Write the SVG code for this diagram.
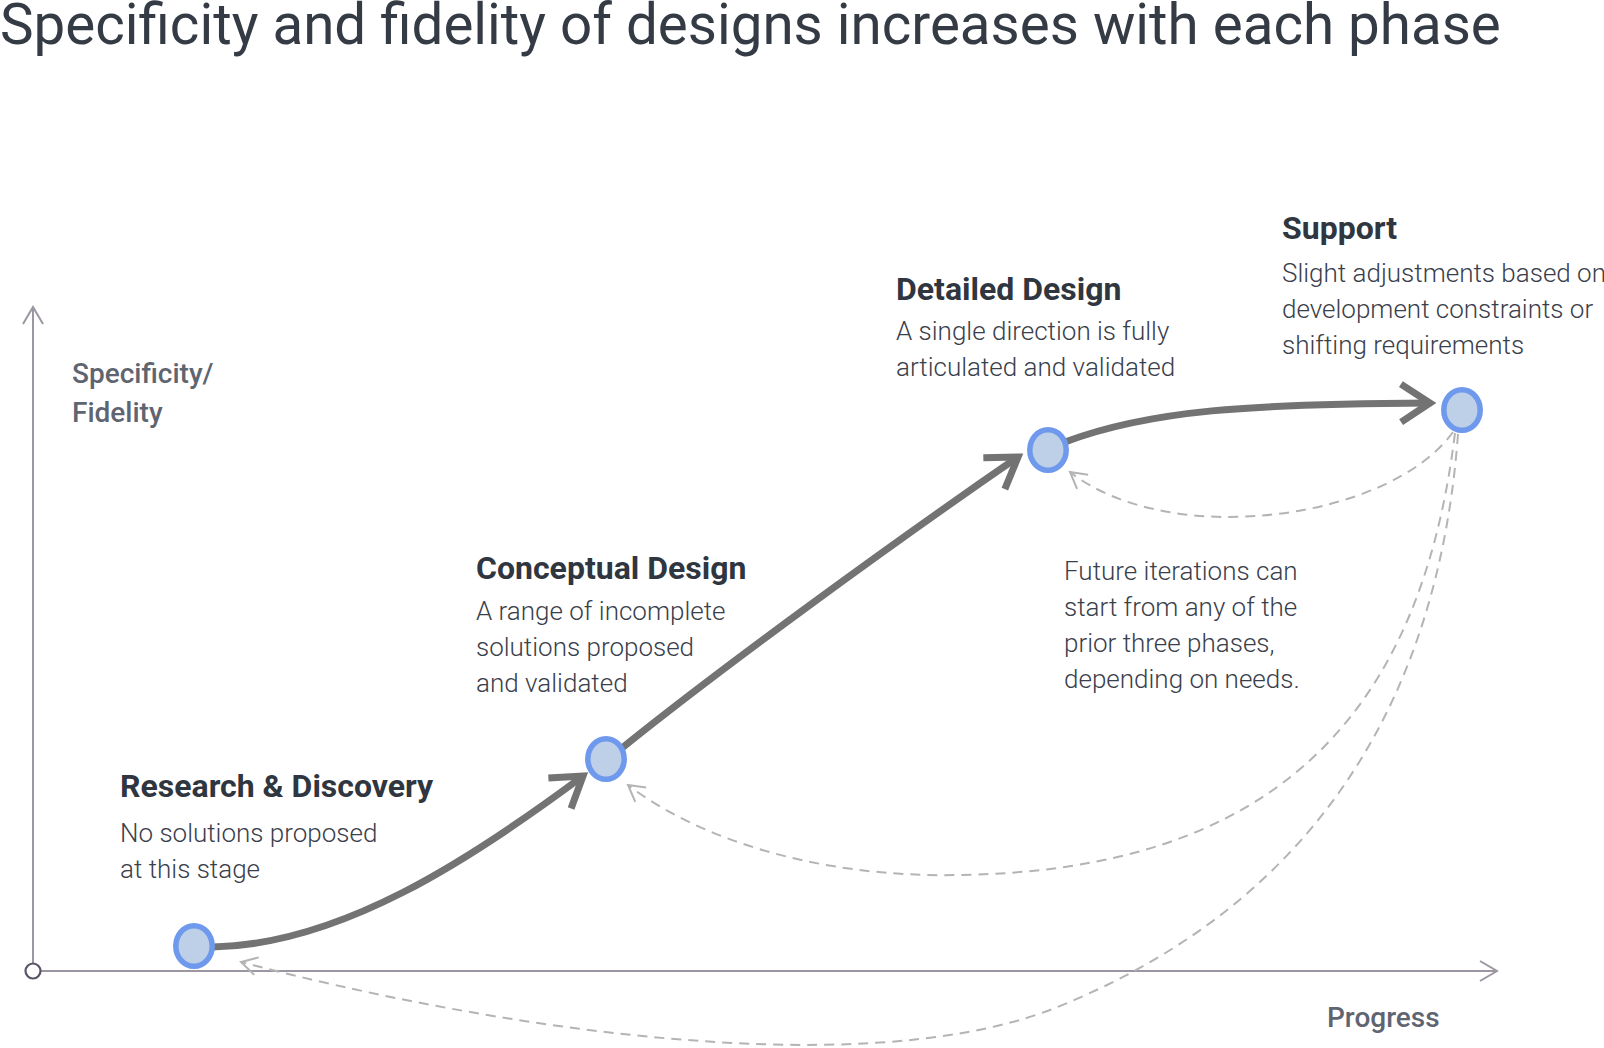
<svg xmlns="http://www.w3.org/2000/svg" width="1604" height="1048" viewBox="0 0 1604 1048">
<style>
text{font-family:Roboto,"Liberation Sans",sans-serif}
.title{font-size:56.5px;font-weight:400;fill:#353b45}
.h{font-size:32px;font-weight:700;fill:#2f3640}
.b{font-size:26px;font-weight:300;fill:#3a404b}
.ax{font-size:28px;font-weight:500;fill:#5f6570}
.node{fill:#bed0e8;stroke:#6e99ec;stroke-width:5.5}
.main{fill:none;stroke:#737373;stroke-width:7}
.dash{fill:none;stroke:#b4b4b4;stroke-width:2;stroke-dasharray:10 7}
.axis{fill:none;stroke:#9b96a1;stroke-width:2}
</style>
<defs>
<marker id="mh" markerUnits="userSpaceOnUse" viewBox="-40 -30 50 60" refX="0" refY="0" markerWidth="50" markerHeight="60" orient="auto" overflow="visible">
<path d="M -29 -19 L 0 0 L -29 19" fill="none" stroke="#737373" stroke-width="7"/>
</marker>
<marker id="dh" markerUnits="userSpaceOnUse" viewBox="-20 -12 24 24" refX="0" refY="0" markerWidth="24" markerHeight="24" orient="auto" overflow="visible">
<path d="M -16 -9 L 0 0 L -16 9" fill="none" stroke="#b4b4b4" stroke-width="2"/>
</marker>
<marker id="ah" markerUnits="userSpaceOnUse" viewBox="-20 -12 24 24" refX="0" refY="0" markerWidth="24" markerHeight="24" orient="auto" overflow="visible">
<path d="M -17 -10 L 0 0 L -17 10" fill="none" stroke="#9b96a1" stroke-width="2"/>
</marker>
</defs>
<rect width="1604" height="1048" fill="#ffffff"/>
<text class="title" x="0" y="44">Specificity and fidelity of designs increases with each phase</text>

<g id="axes">
<path class="axis" d="M 33 963 L 33 307" marker-end="url(#ah)"/>
<path class="axis" d="M 41 971 L 1497 971" marker-end="url(#ah)"/>
<circle cx="33" cy="971" r="7.5" fill="#ffffff" stroke="#5b5366" stroke-width="2.2"/>
<text class="ax" x="72" y="383">Specificity/</text>
<text class="ax" x="72" y="422">Fidelity</text>
<text class="ax" x="1327" y="1027">Progress</text>
</g>

<g id="connectors">
<path class="main" d="M 212 947 C 340 945, 470 860, 583 776" marker-end="url(#mh)"/>
<path class="main" d="M 622 748 C 720 669, 890 545, 1018 457" marker-end="url(#mh)"/>
<path class="main" d="M 1065 442 C 1150 410, 1250 404, 1430 403" marker-end="url(#mh)"/>
<path class="dash" d="M 1453 432 C 1390 520, 1170 550, 1070 472" marker-end="url(#dh)"/>
<path class="dash" d="M 1455 433 C 1420 720, 1270 870, 960 875 C 820 878, 700 840, 628 785" marker-end="url(#dh)"/>
<path class="dash" d="M 1458 434 C 1440 680, 1330 900, 1050 1010 C 850 1085, 480 1025, 241 962" marker-end="url(#dh)"/>
</g>

<g id="node-research">
<ellipse class="node" cx="194" cy="946" rx="18.2" ry="20.3"/>
<text class="h" x="120" y="797">Research &amp; Discovery</text>
<text class="b" x="120" y="842">No solutions proposed</text>
<text class="b" x="120" y="878">at this stage</text>
</g>
<g id="node-conceptual">
<ellipse class="node" cx="606" cy="759" rx="18.2" ry="20.3"/>
<text class="h" x="476" y="579">Conceptual Design</text>
<text class="b" x="476" y="620">A range of incomplete</text>
<text class="b" x="476" y="656">solutions proposed</text>
<text class="b" x="476" y="692">and validated</text>
</g>
<g id="node-detailed">
<ellipse class="node" cx="1048" cy="450" rx="18.2" ry="20.3"/>
<text class="h" x="896" y="300">Detailed Design</text>
<text class="b" x="896" y="340">A single direction is fully</text>
<text class="b" x="896" y="376">articulated and validated</text>
</g>
<g id="node-support">
<ellipse class="node" cx="1462" cy="410" rx="18.2" ry="20.3"/>
<text class="h" x="1282" y="239">Support</text>
<text class="b" x="1282" y="282">Slight adjustments based on</text>
<text class="b" x="1282" y="318">development constraints or</text>
<text class="b" x="1282" y="354">shifting requirements</text>
</g>
<g id="note">
<text class="b" x="1064" y="580">Future iterations can</text>
<text class="b" x="1064" y="616">start from any of the</text>
<text class="b" x="1064" y="652">prior three phases,</text>
<text class="b" x="1064" y="688">depending on needs.</text>
</g>
</svg>
